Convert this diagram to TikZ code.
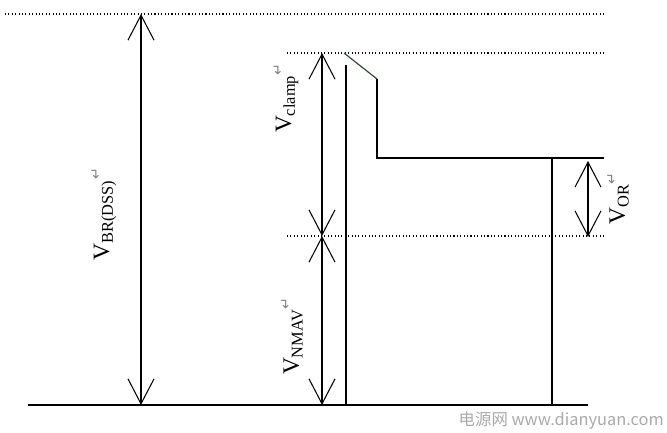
\documentclass[tikz,border=0pt]{standalone}
\usepackage{fontspec}
\setmainfont{Liberation Serif}
\newfontfamily\cjkfont{Noto Sans CJK SC}
\newfontfamily\markfont{DejaVu Sans}
\usetikzlibrary{arrows.meta}
\definecolor{WaveGreen}{RGB}{50,70,50}
\definecolor{MarkGray}{RGB}{130,130,130}
\definecolor{StampGray}{RGB}{170,170,170}
\newcommand{\parmark}{{\markfont\color{MarkGray}\fontsize{12}{12}\selectfont ↵}}

\begin{document}
\begin{tikzpicture}[x=0.03cm,y=-0.03cm,
  level/.style={dotted,line width=0.9pt},
  rail/.style={line width=1pt},
  span/.style={line width=0.9pt,{Straight Barb[length=7.5mm,width=7.8mm]}-{Straight Barb[length=7.5mm,width=7.8mm]}},
  vlabel/.style={rotate=90,font=\fontsize{20}{24}\selectfont,inner sep=0pt}]
  \useasboundingbox (0,0) rectangle (667,433);
  % levels
  \coordinate (top L) at (5,14);    \coordinate (top R) at (605,14);
  \coordinate (clp L) at (287,53);  \coordinate (clp R) at (605,53);
  \coordinate (mid L) at (287,236); \coordinate (mid R) at (603,236);
  \coordinate (gnd L) at (28,405);  \coordinate (gnd R) at (588,405);
  \foreach \lv in {top,clp,mid}
    \draw[level] (\lv\space L) -- (\lv\space R);
  \draw[rail] (gnd L) -- (gnd R);

  % waveform
  \coordinate (w0) at (344,53);
  \coordinate (w1) at (377,79);
  \coordinate (w2) at (377,158);
  \coordinate (w3) at (604,158);
  \draw[rail,WaveGreen] (w0) -- (w1);
  \draw[rail] (w1) -- (w2) -- (w3);
  \coordinate (in top) at (346,65);  \coordinate (in bot) at (346,405);
  \coordinate (or top) at (552,158); \coordinate (or bot) at (552,405);
  \draw[rail] (in top) -- (in bot);
  \draw[rail] (or top) -- (or bot);

  % spans
  \coordinate (bv top) at (141,14);  \coordinate (bv bot) at (141,405);
  \coordinate (cl top) at (322,53);  \coordinate (cl bot) at (322,236);
  \coordinate (nm top) at (322,236); \coordinate (nm bot) at (322,405);
  \coordinate (vo top) at (588,161); \coordinate (vo bot) at (588,237);
  \draw[span] (bv top) -- (bv bot);
  \draw[span] (cl top) -- (cl bot);
  \draw[span] (nm top) -- (nm bot);
  \draw[span] (vo top) -- (vo bot);

  % labels
  \node[vlabel] (bv) at (104,214) {V\textsubscript{BR(DSS)}\textsuperscript{\parmark}};
  \node[vlabel] (cl) at (286,98) {V\textsubscript{clamp}\textsuperscript{\parmark}};
  \node[vlabel] (nm) at (292,336) {V\textsubscript{NMAV}\textsuperscript{\parmark}};
  \node[vlabel] (vo) at (618,198) {V\textsubscript{OR}\textsuperscript{\parmark}};

  \node[font=\cjkfont\fontsize{14}{16}\selectfont,text=StampGray,anchor=east,inner sep=0pt] (stamp) at (664,421) {电源网 www.dianyuan.com};
\end{tikzpicture}
\end{document}
